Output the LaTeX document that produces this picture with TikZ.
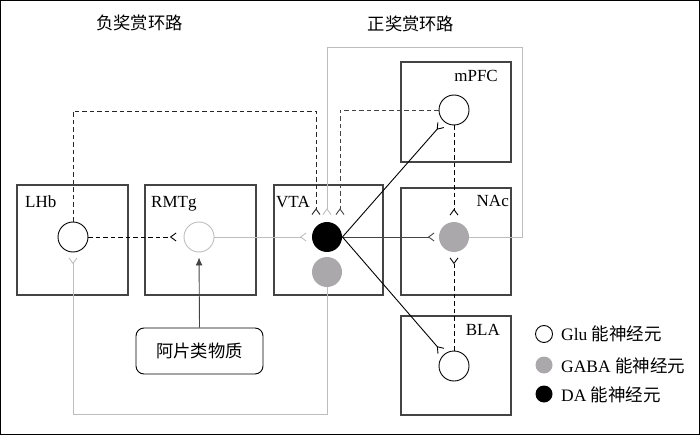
\documentclass[tikz,border=0pt]{standalone}
\usepackage{fontspec}
\setmainfont{Liberation Serif}
\newfontfamily\cjk{Noto Sans CJK SC}
\usetikzlibrary{arrows.meta}
\definecolor{lgray}{HTML}{BDBDBD}
\definecolor{ngray}{HTML}{AAA8AA}
\definecolor{dgray}{HTML}{444444}
\begin{document}
\begin{tikzpicture}[x=1pt,y=-1pt,
  region/.style={draw=dgray, line width=1.2pt, inner sep=0pt},
  neuron/.style={circle, minimum size=30pt, inner sep=0pt, line width=0.9pt},
  glu/.style={neuron, draw=black, fill=white},
  gaba/.style={neuron, fill=ngray},
  da/.style={neuron, fill=black},
  syn/.style={-{Straight Barb[reversed,length=5.5pt,width=8pt]}},
  dsh/.style={dash pattern=on 4.5pt off 3pt},
  conn/.style={line width=0.9pt},
  lab/.style={font=\fontsize{17}{19}\selectfont, inner sep=0pt},
  leg/.style={font=\fontsize{17.5}{19}\selectfont, inner sep=0pt, anchor=base west},
  ttl/.style={font=\cjk\fontsize{17.3}{19}\selectfont, inner sep=0pt}
]
\useasboundingbox (0,0) rectangle (700,435);
\draw[line width=1.2pt] (0.6,0.6) rectangle (699.4,434.4);

% titles
\node[ttl] (t1) at (139.5,23) {负奖赏环路};
\node[ttl] (t2) at (411,24) {正奖赏环路};

% regions
\node[region, minimum width=111pt, minimum height=110pt] (lhb) at (72.5,240) {};
\node[region, minimum width=111pt, minimum height=110pt] (rmtg) at (200.5,240) {};
\node[region, minimum width=109pt, minimum height=110pt] (vta) at (328.5,240) {};
\node[region, minimum width=110pt, minimum height=100pt] (mpfc) at (456,112) {};
\node[region, minimum width=110pt, minimum height=107pt] (nac) at (456,241.5) {};
\node[region, minimum width=110pt, minimum height=99pt] (bla) at (456,365.5) {};

% region labels
\node[lab, anchor=base west] (lhbL) at (25,208) {LHb};
\node[lab, anchor=base west] (rmtgL) at (151,208) {RMTg};
\node[lab, anchor=base west] (vtaL) at (276,208) {VTA};
\node[lab, anchor=base east] (mpfcL) at (498,82) {mPFC};
\node[lab, anchor=base east] (nacL) at (509,207) {NAc};
\node[lab, anchor=base east] (blaL) at (500,335) {BLA};

% neurons
\node[glu] (lhbN) at (73,237) {};
\node[neuron, draw=lgray, fill=white] (rmtgN) at (199,237) {};
\node[da] (vtaDA) at (327,237) {};
\node[gaba] (vtaGA) at (327,272) {};
\node[gaba] (nacN) at (454,237) {};
\node[glu] (mpfcN) at (454,110) {};
\node[glu] (blaN) at (454,366) {};

% opioid box
\node[draw=black, rounded corners=8pt, line width=0.9pt, minimum width=127pt, minimum height=46pt,
      font=\cjk\fontsize{17.3}{19}\selectfont] (opi) at (199.5,351) {阿片类物质};

% helper coordinates
\coordinate (lhbUp) at (73,111);
\coordinate (in1) at (316,215);
\coordinate (in2) at (327,215);
\coordinate (in3) at (340,215);
\coordinate (mpfcTurn) at (340,110);
\coordinate (nacR) at (522,237);
\coordinate (topR) at (522,47);
\coordinate (topL) at (327,47);
\coordinate (botR) at (327,414);
\coordinate (botL) at (73,414);

% connectors
\draw[conn, dsh, syn, draw=black!85] (lhbN.north) -- (lhbUp) -| (in1);
\draw[conn, dsh, syn, draw=dgray] (mpfcN.west) -- (mpfcTurn) -- (in3);
\draw[conn, syn, draw=lgray] (nacN.east) -- (nacR) -- (topR) -- (topL) -- (in2);
\draw[conn, syn, draw=lgray, shorten >=5pt] (rmtgN.east) -- (vtaDA.west);
\draw[conn, dsh, syn, draw=black, shorten >=7pt] (lhbN.east) -- (rmtgN.west);
\draw[conn, syn, draw=lgray, shorten >=5pt] (vtaGA.south) -- (botR) -- (botL) -- (lhbN.south);
\draw[conn, syn, draw=dgray, shorten >=4pt] (vtaDA.east) -- (nacN.west);
\draw[conn, syn, draw=black, shorten >=4pt] (vtaDA.east) -- (mpfcN);
\draw[conn, syn, draw=black, shorten >=4pt] (vtaDA.east) -- (blaN);
\draw[conn, dsh, syn, draw=black, shorten >=6pt] (mpfcN.south) -- (nacN.north);
\draw[conn, dsh, syn, draw=black, shorten >=5pt] (blaN.north) -- (nacN.south);
\draw[conn, draw=dgray, -{Latex[length=8pt,width=7pt]}, shorten >=5pt] (opi.north) -- (rmtgN.south);

% legend
\node[glu, minimum size=17pt] (lg1) at (544,334) {};
\node[gaba, minimum size=17pt] (lg2) at (544,365) {};
\node[da, minimum size=17pt] (lg3) at (544,394) {};
\node[leg] (lt1) at (561,340) {Glu {\cjk 能神经元}};
\node[leg] (lt2) at (561,372) {GABA {\cjk 能神经元}};
\node[leg] (lt3) at (561,401) {DA {\cjk 能神经元}};
\end{tikzpicture}
\end{document}
